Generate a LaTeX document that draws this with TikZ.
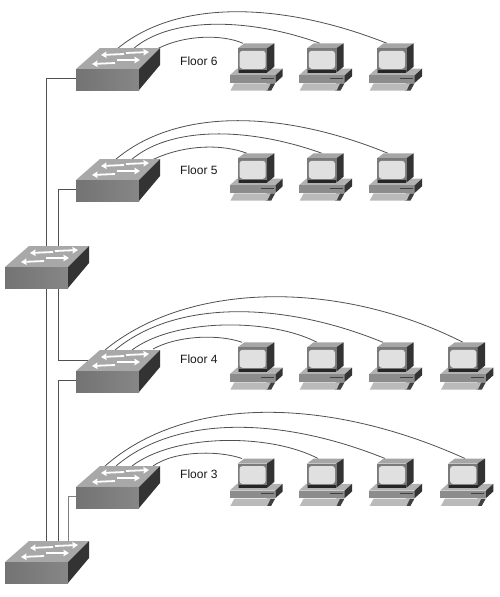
\documentclass[tikz,border=0pt]{standalone}
\usepackage{fontspec}
\setmainfont{Liberation Sans}
\usetikzlibrary{arrows.meta,backgrounds}
\definecolor{swtop}{HTML}{A8A8A8}
\definecolor{swfront}{HTML}{808080}
\definecolor{swside}{HTML}{333333}
\definecolor{cable}{HTML}{505050}
\tikzset{
  x=1pt,y=-1pt,
  wire/.style={draw=cable,line width=0.8pt},
  greywire/.style={draw=gray,line width=1pt},
  flow/.style={draw=white,line width=1.8pt,-{Stealth[length=5.5pt,width=6.5pt,inset=0.5pt]}},
  floorlabel/.style={font=\fontsize{12}{14}\selectfont,anchor=west,inner sep=0pt,text=black!90},
  switch/.pic={
    \fill[swtop] (0,0) -- (24,-21) -- (84,-21) -- (63,0) -- cycle;
    \fill[left color=swfront!110,right color=swfront!95] (0,0) rectangle (63,21);
    \fill[swside] (63,0) -- (84,-21) -- (84,-4) -- (63,21) -- cycle;
    \draw[flow] (48,-15) -- (25,-14);
    \draw[flow] (50,-16) -- (73,-17);
    \draw[flow] (39,-6) -- (16,-5);
    \draw[flow] (41,-9) -- (64,-9);
    \coordinate (-left) at (0,9);
    \coordinate (-upper) at (12,-10.5);
    \coordinate (-t1) at (41,-21);
    \coordinate (-t2) at (53,-21);
    \coordinate (-t3) at (63,-21);
    \coordinate (-b1) at (41,21);
    \coordinate (-b2) at (53,21);
  },
  computer/.pic={
    \fill[black!75] (29,35) -- (37.5,35) -- (33.5,42.3) -- (28,42.3) -- cycle;
    \fill[black!27] (-7.3,42.3) -- (-3.3,35) -- (33,35) -- (29.5,42.3) -- cycle;
    \fill[black!30] (-8,27) -- (-0.7,20.4) -- (45,20.4) -- (37.7,27) -- cycle;
    \fill[black!45] (-8,27) rectangle (37.7,34.6);
    \fill[swside] (37.7,27) -- (45,20.4) -- (45,28) -- (37.7,34.6) -- cycle;
    \fill[black!75] (23,29.8) rectangle (36,30.8);
    \fill[black!35] (0,0) -- (6.7,-5) -- (36.7,-5) -- (29.3,0) -- cycle;
    \fill[black!52] (0,0) rectangle (29.3,24.3);
    \fill[swside] (29.3,0) -- (36.7,-5) -- (36.7,18.3) -- (29.3,24.3) -- cycle;
    \fill[black!85] (1,21.8) rectangle (29.3,24.6);
    \fill[black!12,rounded corners=3pt] (1.8,2.5) rectangle (28,20.5);
    \coordinate (-top) at (6.7,-5);
  }
}
\begin{document}
\begin{tikzpicture}
\useasboundingbox (0,0) rectangle (500,597);
\path (5,267) pic (hub) {switch};
\path (5,562) pic (core) {switch};
\path (76,69) pic (f6) {switch};
\path (76,180) pic (f5) {switch};
\path (76,371) pic (f4) {switch};
\path (76,487) pic (f3) {switch};
% computers
\foreach \n/\x in {1/237.7,2/307,3/377}{
  \path (\x,48.3) pic (a\n) {computer};
  \path (\x,158.3) pic (b\n) {computer};
}
\foreach \n/\x in {1/237.7,2/307,3/377,4/448.3}{
  \path (\x,347.3) pic (c\n) {computer};
  \path (\x,463.5) pic (d\n) {computer};
}
% labels
\node[floorlabel] (l6) at (180,61.5) {Floor 6};
\node[floorlabel] (l5) at (180,170.5) {Floor 5};
\node[floorlabel] (l4) at (180,359.5) {Floor 4};
\node[floorlabel] (l3) at (180,474.5) {Floor 3};
% start points on the switches
\coordinate (s61) at (117,49); \coordinate (s62) at (133,49); \coordinate (s63) at (157,49);
\coordinate (s51) at (115,160); \coordinate (s52) at (131,160); \coordinate (s53) at (152,160);
\coordinate (s41) at (105,350); \coordinate (s42) at (115,350); \coordinate (s43) at (132,350); \coordinate (s44) at (153,349);
\coordinate (s31) at (105,466); \coordinate (s32) at (116,466); \coordinate (s33) at (132,466); \coordinate (s34) at (153,466);
\begin{scope}[on background layer]
\fill[white] (0,0) rectangle (500,597);
% wires between the switches
\draw[wire] (hub-t1) |- (f6-left);
\draw[wire] (hub-t2) |- (f5-left);
\draw[wire] (hub-b2) |- (f4-upper);
\draw[wire] (hub-b1) -- (core-t1);
\draw[wire] (core-t2) |- (f4-left);
\draw[greywire] (core-t3) |- (f3-left);
% cables
\draw[wire] (s61) .. controls (175,0.3) and (278,0.3) .. ([xshift=3.3pt]a3-top);
\draw[wire] (s62) .. controls (170,17) and (247,17) .. ([xshift=6.3pt]a2-top);
\draw[wire] (s63) .. controls (185,34.4) and (223,34.4) .. ([xshift=-1.4pt]a1-top);
\draw[wire] (s51) .. controls (175,108.7) and (279,108.7) .. ([xshift=4.3pt]b3-top);
\draw[wire] (s52) .. controls (170,126.4) and (247,126.4) .. ([xshift=8.3pt]b2-top);
\draw[wire] (s53) .. controls (185,144.1) and (223,144.1) .. ([xshift=2.6pt]b1-top);
\draw[wire] (s41) .. controls (190,280.3) and (341,280.3) .. ([xshift=8pt]c4-top);
\draw[wire] (s42) .. controls (175,300.3) and (280,300.3) .. ([xshift=-0.7pt]c3-top);
\draw[wire] (s43) .. controls (175,318) and (270,318) .. ([xshift=3.3pt]c2-top);
\draw[wire] (s44) .. controls (180,334.6) and (221,334.6) .. ([xshift=-2.4pt]c1-top);
\draw[wire] (s31) .. controls (185,395.7) and (326,395.7) .. ([xshift=10pt]d4-top);
\draw[wire] (s32) .. controls (175,415.7) and (279,415.7) .. ([xshift=1.3pt]d3-top);
\draw[wire] (s33) .. controls (175,433.3) and (270,433.3) .. ([xshift=4.3pt]d2-top);
\draw[wire] (s34) .. controls (175,450.4) and (219,450.4) .. ([xshift=-2.4pt]d1-top);
\end{scope}
\end{tikzpicture}
\end{document}
